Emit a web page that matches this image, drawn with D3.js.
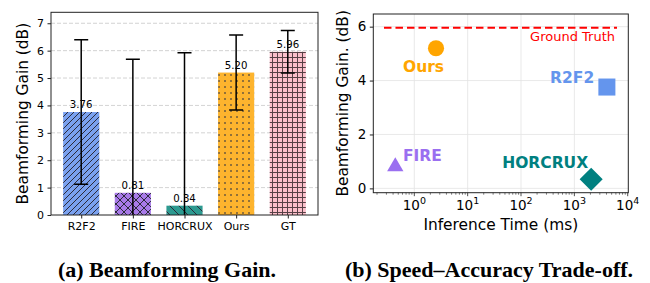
<!DOCTYPE html>
<html lang="en">
<head>
<meta charset="utf-8">
<title>Beamforming</title>
<script src="https://d3js.org/d3.v7.min.js"></script>
<style>
body { margin: 0; background: #fff; }
svg text { font-family: "DejaVu Sans", sans-serif; fill: #000; }
.caption { font-family: "Liberation Serif", serif !important; font-weight: bold; }
</style>
</head>
<body>
<script>
/////////////// Data ///////////////
var methods = ["R2F2", "FIRE", "HORCRUX", "Ours", "GT"];
var gains = [3.76, 0.81, 0.34, 5.20, 5.96];
var gainErr = [2.64, 4.88, 5.58, 1.37, 0.78];
var barColors = ["#7aa1ef", "#a87ae8", "#2d9a90", "#fdb42e", "#fbbfca"];
var hatches = ["diag", "cross", "back", "dots", "grid"];
var yTicksA = [0, 1, 2, 3, 4, 5, 6, 7];

var pointNames = ["Ours", "R2F2", "FIRE", "HORCRUX"];
var timeMs = [2.55, 4070, 0.44, 2065];
var pointGain = [5.20, 3.76, 0.81, 0.34];
var pointColors = ["#ffa500", "#6495ed", "#9a6ff0", "#008080"];
var groundTruth = 5.96;
var gtRange = [0.27, 6300];
var yTicksB = [0, 2, 4, 6];
var xTicksB = [1, 10, 100, 1000, 10000];

var width = 650, height = 283;
var svg = d3.select("body").append("svg").attr("width", width).attr("height", height);
var defs = svg.append("defs");

//////////// hatch patterns ////////////
function pattern(id, size, color, draw) {
  var p = defs.append("pattern").attr("id", id).attr("patternUnits", "userSpaceOnUse")
    .attr("width", size).attr("height", size);
  p.append("rect").attr("width", size).attr("height", size).attr("fill", color);
  draw(p, size);
}
var hc = "#2b2b3a";
pattern("diag", 6, barColors[0], function(p, s) {
  p.append("path").attr("d", "M0," + s + "L" + s + ",0M-1,1L1,-1M" + (s-1) + "," + (s+1) + "L" + (s+1) + "," + (s-1))
    .attr("stroke", hc).attr("stroke-width", 1);
});
pattern("cross", 8, barColors[1], function(p, s) {
  p.append("path").attr("d", "M0," + s + "L" + s + ",0M-1,1L1,-1M" + (s-1) + "," + (s+1) + "L" + (s+1) + "," + (s-1) +
    "M0,0L" + s + "," + s + "M-1," + (s-1) + "L1," + (s+1) + "M" + (s-1) + ",-1L" + (s+1) + ",1")
    .attr("stroke", hc).attr("stroke-width", 1);
});
pattern("back", 9, barColors[2], function(p, s) {
  p.append("path").attr("d", "M0,0L" + s + "," + s + "M-1," + (s-1) + "L1," + (s+1) + "M" + (s-1) + ",-1L" + (s+1) + ",1")
    .attr("stroke", hc).attr("stroke-width", 1);
});
pattern("dots", 6, barColors[3], function(p, s) {
  p.append("rect").attr("x", 2.2).attr("y", 2.2).attr("width", 1.6).attr("height", 1.6).attr("fill", "#3a3a40").attr("opacity", 0.85);
});
pattern("grid", 5, barColors[4], function(p, s) {
  p.append("path").attr("d", "M2.5,0V5M0,2.5H5").attr("stroke", "#3a2a2e").attr("stroke-width", 1).attr("opacity", 0.85);
});

//============================== (a) bar chart
var A = {left: 51, right: 318, top: 12.3, bottom: 215};
var xA = d3.scaleLinear().domain([-0.585, 4.585]).range([A.left, A.right]);
var yA = d3.scaleLinear().domain([0, 7.4]).range([A.bottom, A.top]);
var barW = 0.7;

defs.append("clipPath").attr("id", "clipA").append("rect")
  .attr("x", A.left).attr("y", A.top).attr("width", A.right - A.left).attr("height", A.bottom - A.top);

var gA = svg.append("g");
gA.selectAll("line.grid").data(yTicksA.slice(1)).enter().append("line")
  .attr("x1", A.left).attr("x2", A.right).attr("y1", yA).attr("y2", yA)
  .attr("stroke", "#c8c8c8").attr("stroke-width", 0.8).attr("stroke-dasharray", "4,2");

gA.selectAll("rect.bar").data(methods).enter().append("rect")
  .attr("x", function(d, i) { return xA(i - barW/2); })
  .attr("width", xA(barW) - xA(0))
  .attr("y", function(d, i) { return yA(gains[i]); })
  .attr("height", function(d, i) { return yA(0) - yA(gains[i]); })
  .attr("fill", function(d, i) { return "url(#" + hatches[i] + ")"; });

var err = gA.append("g").attr("clip-path", "url(#clipA)");
methods.forEach(function(m, i) {
  var cx = xA(i), lo = yA(gains[i] - gainErr[i]), hi = yA(gains[i] + gainErr[i]);
  err.append("line").attr("x1", cx).attr("x2", cx).attr("y1", lo).attr("y2", hi)
    .attr("stroke", "#000").attr("stroke-width", 1.5);
  [lo, hi].forEach(function(y) {
    err.append("line").attr("x1", cx - 7).attr("x2", cx + 7).attr("y1", y).attr("y2", y)
      .attr("stroke", "#000").attr("stroke-width", 1.5);
  });
});

gA.selectAll("text.val").data(methods).enter().append("text")
  .attr("x", function(d, i) { return xA(i); })
  .attr("y", function(d, i) { return yA(gains[i]) - 4; })
  .attr("text-anchor", "middle").attr("font-size", 10.2).attr("fill", "#222")
  .text(function(d, i) { return gains[i].toFixed(2); });

gA.append("rect").attr("x", A.left).attr("y", A.top).attr("width", A.right - A.left).attr("height", A.bottom - A.top)
  .attr("fill", "none").attr("stroke", "#222").attr("stroke-width", 1);

var axAy = gA.append("g").attr("transform", "translate(" + A.left + ",0)")
  .call(d3.axisLeft(yA).tickValues(yTicksA).tickFormat(d3.format("d")).tickSize(3.5).tickPadding(3.5));
var axAx = gA.append("g").attr("transform", "translate(0," + A.bottom + ")")
  .call(d3.axisBottom(xA).tickValues(d3.range(methods.length)).tickFormat(function(i) { return methods[i]; })
    .tickSize(3.5).tickPadding(3.5));
[axAy, axAx].forEach(function(ax) {
  ax.select(".domain").remove();
  ax.selectAll("line").attr("stroke", "#222");
  ax.selectAll("text").attr("font-size", 11).attr("font-family", "DejaVu Sans").attr("fill", "#000");
});

gA.append("text").attr("transform", "translate(22.8," + ((A.top + A.bottom)/2) + ") rotate(-90)")
  .attr("text-anchor", "middle").attr("dy", "0.35em").attr("font-size", 15.4)
  .text("Beamforming Gain (dB)");

//============================== (b) scatter
var B = {left: 373.3, right: 628.3, top: 14, bottom: 192.7};
var xB = d3.scaleLog().domain([0.1703, 10257]).range([B.left, B.right]);
var yB = d3.scaleLinear().domain([-0.16, 6.47]).range([B.bottom, B.top]);
var gB = svg.append("g");

gB.selectAll("line.gx").data(xTicksB.slice(0, 4)).enter().append("line")
  .attr("x1", xB).attr("x2", xB).attr("y1", B.top).attr("y2", B.bottom)
  .attr("stroke", "#e3e3e3").attr("stroke-width", 0.8);
gB.selectAll("line.gy").data(yTicksB).enter().append("line")
  .attr("x1", B.left).attr("x2", B.right).attr("y1", yB).attr("y2", yB)
  .attr("stroke", "#e3e3e3").attr("stroke-width", 0.8);

gB.append("line").attr("x1", xB(gtRange[0])).attr("x2", xB(gtRange[1]))
  .attr("y1", yB(groundTruth)).attr("y2", yB(groundTruth))
  .attr("stroke", "#ff0000").attr("stroke-width", 2).attr("stroke-dasharray", "7.5,4");
gB.append("text").attr("x", 615).attr("y", yB(groundTruth) + 13.5).attr("text-anchor", "end")
  .attr("font-size", 13).style("fill", "#ff0000").text("Ground Truth");

var shapes = [
  d3.symbol().type(d3.symbolCircle).size(205),
  d3.symbol().type(d3.symbolSquare).size(290),
  d3.symbol().type(d3.symbolTriangle).size(115),
  d3.symbol().type(d3.symbolSquare).size(265)
];
var rot = [0, 0, 0, 45];
gB.selectAll("path.pt").data(pointNames).enter().append("path")
  .attr("d", function(d, i) { return shapes[i](); })
  .attr("transform", function(d, i) {
    return "translate(" + xB(timeMs[i]) + "," + yB(pointGain[i]) + ") rotate(" + rot[i] + ")";
  })
  .attr("fill", function(d, i) { return pointColors[i]; });

// label placement relative to marker
var labelDx = [-12.5, -12.7, 7.7, -3], labelDy = [24, -3.8, -6, -11];
var labelAnchor = ["middle", "end", "start", "end"];
gB.selectAll("text.lab").data(pointNames).enter().append("text")
  .attr("x", function(d, i) { return xB(timeMs[i]) + labelDx[i]; })
  .attr("y", function(d, i) { return yB(pointGain[i]) + labelDy[i]; })
  .attr("text-anchor", function(d, i) { return labelAnchor[i]; })
  .attr("font-size", 15.5).attr("font-weight", "bold")
  .style("fill", function(d, i) { return pointColors[i]; })
  .text(function(d) { return d; });

gB.append("rect").attr("x", B.left).attr("y", B.top).attr("width", B.right - B.left).attr("height", B.bottom - B.top)
  .attr("fill", "none").attr("stroke", "#222").attr("stroke-width", 1);

var axBy = gB.append("g").attr("transform", "translate(" + B.left + ",0)")
  .call(d3.axisLeft(yB).tickValues(yTicksB).tickFormat(d3.format("d")).tickSize(3.5).tickPadding(3.5));
axBy.select(".domain").remove();
axBy.selectAll("line").attr("stroke", "#222");
axBy.selectAll("text").attr("font-size", 13.5).attr("font-family", "DejaVu Sans");

// minor ticks on log axis
var minor = [];
[0.1, 1, 10, 100, 1000].forEach(function(base) {
  for (var k = 2; k <= 9; k++) { var v = base * k; if (v > xB.domain()[0] && v < xB.domain()[1]) minor.push(v); }
});
gB.selectAll("line.minor").data(minor).enter().append("line")
  .attr("x1", xB).attr("x2", xB).attr("y1", B.bottom).attr("y2", B.bottom + 2)
  .attr("stroke", "#222").attr("stroke-width", 0.6);
gB.selectAll("line.major").data(xTicksB).enter().append("line")
  .attr("x1", xB).attr("x2", xB).attr("y1", B.bottom).attr("y2", B.bottom + 3.5)
  .attr("stroke", "#222").attr("stroke-width", 0.8);
var xl = gB.selectAll("text.xl").data(xTicksB).enter().append("text")
  .attr("x", xB).attr("y", 210).attr("text-anchor", "middle").attr("font-size", 13.5);
xl.append("tspan").text("10");
xl.append("tspan").attr("dy", -6).attr("font-size", 9.5).text(function(d) { return Math.round(Math.log10(d)); });

gB.append("text").attr("x", (B.left + B.right)/2).attr("y", 230).attr("text-anchor", "middle")
  .attr("font-size", 15.4).text("Inference Time (ms)");
gB.append("text").attr("transform", "translate(342.5," + ((B.top + B.bottom)/2) + ") rotate(-90)")
  .attr("text-anchor", "middle").attr("dy", "0.35em").attr("font-size", 15.4)
  .text("Beamforming Gain. (dB)");

//============================== captions
svg.append("text").attr("class", "caption").attr("x", 167).attr("y", 277).attr("text-anchor", "middle")
  .attr("font-size", 22).text("(a) Beamforming Gain.");
svg.append("text").attr("class", "caption").attr("x", 489).attr("y", 277).attr("text-anchor", "middle")
  .attr("font-size", 22).text("(b) Speed\u2013Accuracy Trade-off.");
</script>
</body>
</html>
